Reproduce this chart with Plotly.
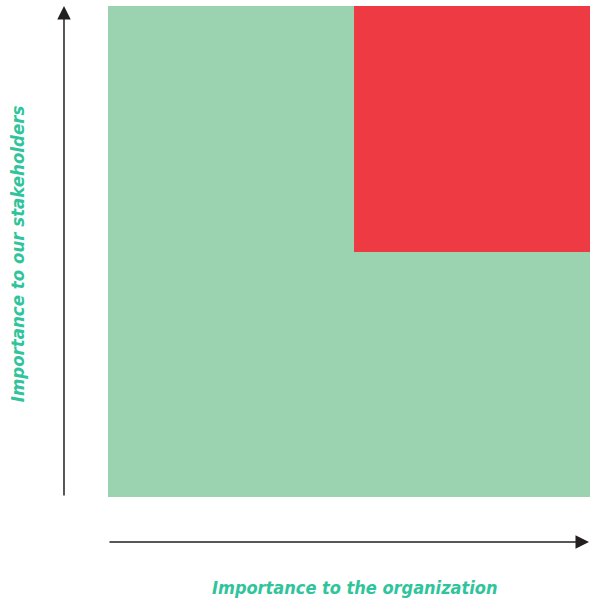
import plotly.graph_objects as go

# Materiality matrix: two levels on each axis, top-right quadrant highlighted
x_edges = [0, 51, 100]          # importance to the organization
y_edges = [0, 50, 100]          # importance to our stakeholders
z_values = [[0, 0],
            [0, 1]]             # 1 = material (high / high)
x_title = "Importance to the organization"
y_title = "Importance to our stakeholders"

GREEN = "#9bd3b0"
RED = "#ee3a43"
TEAL = "#2fc49b"
ARROW = "#231f20"
FONT = "DejaVu Sans Condensed, DejaVu Sans, sans-serif"

fig = go.Figure(go.Heatmap(
    x=x_edges, y=y_edges, z=z_values,
    colorscale=[[0, GREEN], [0.5, GREEN], [0.5, RED], [1, RED]],
    zmin=0, zmax=1, showscale=False, hoverinfo="skip",
))

fig.update_xaxes(range=[0, 100], visible=False, fixedrange=True)
fig.update_yaxes(range=[0, 100], visible=False, fixedrange=True)

annotations = [
    dict(x=-0.0913, y=1.0, xref="paper", yref="paper", ax=0, ay=491,
         axref="pixel", ayref="pixel", showarrow=True, arrowhead=2,
         arrowsize=1.8, arrowwidth=1.5, arrowcolor=ARROW, text=""),
    dict(x=1.002, y=-0.0916, xref="paper", yref="paper", ax=-483, ay=0,
         axref="pixel", ayref="pixel", showarrow=True, arrowhead=2,
         arrowsize=1.8, arrowwidth=1.5, arrowcolor=ARROW, text=""),
    dict(x=0.512, y=-0.185, xref="paper", yref="paper", showarrow=False,
         text=f"<b><i>{x_title}</i></b>", font=dict(family=FONT, size=18, color=TEAL),
         xanchor="center", yanchor="middle"),
    dict(x=-0.186, y=0.495, xref="paper", yref="paper", showarrow=False,
         text=f"<b><i>{y_title}</i></b>", font=dict(family=FONT, size=18.5, color=TEAL),
         textangle=-90, xanchor="center", yanchor="middle"),
]

fig.update_layout(
    width=590, height=602,
    margin=dict(l=108, r=0, t=6, b=105),
    paper_bgcolor="white", plot_bgcolor="white",
    annotations=annotations, showlegend=False,
)

fig.write_html("out.html", config={"displayModeBar": False},
               post_script="document.body.style.margin='0';")
